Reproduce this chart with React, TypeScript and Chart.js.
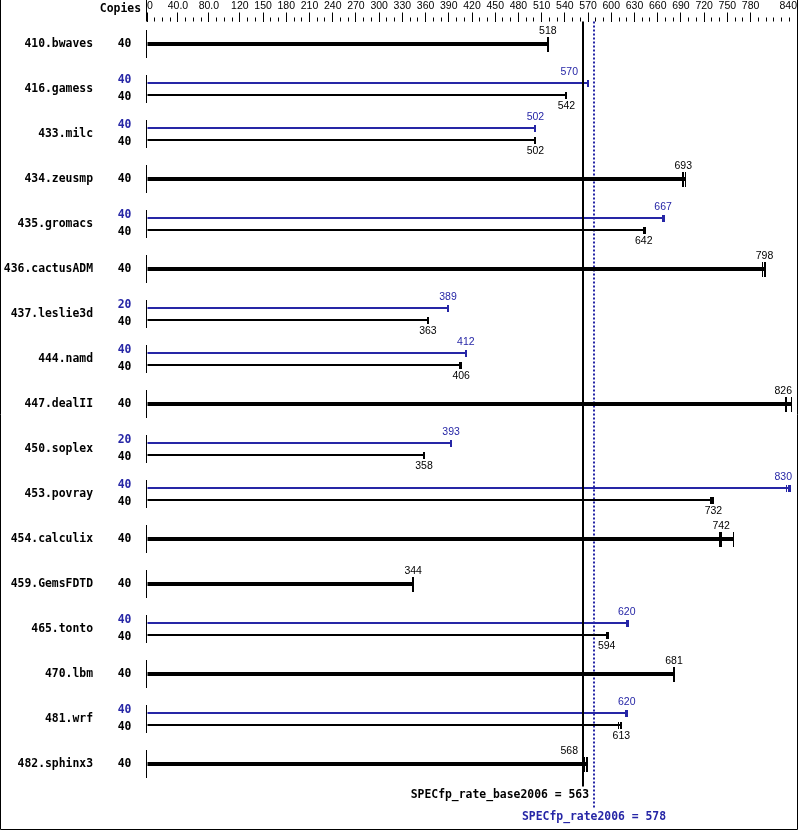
import React, { useEffect, useRef } from 'react';
import { Chart, registerables } from 'chart.js';

Chart.register(...registerables);

// ---------- data ----------
const benchmarks = [
  '410.bwaves', '416.gamess', '433.milc', '434.zeusmp', '435.gromacs', '436.cactusADM',
  '437.leslie3d', '444.namd', '447.dealII', '450.soplex', '453.povray', '454.calculix',
  '459.GemsFDTD', '465.tonto', '470.lbm', '481.wrf', '482.sphinx3',
];
const baseCopies = [40, 40, 40, 40, 40, 40, 40, 40, 40, 40, 40, 40, 40, 40, 40, 40, 40];
const peakCopies: (number | null)[] = [null, 40, 40, null, 40, null, 20, 40, null, 20, 40, null, null, 40, null, 40, null];
const baseMedians = [518, 542, 502, 693, 642, 798, 363, 406, 826, 358, 732, 742, 344, 594, 681, 613, 568];
const peakMedians: (number | null)[] = [null, 570, 502, null, 667, null, 389, 412, null, 393, 830, null, null, 620, null, 620, null];
const baseRuns: number[][] = [
  [518, 518, 518], [542, 542, 542], [502, 502, 502], [693, 693, 696], [642, 642, 644],
  [796, 798, 798], [363, 363, 363], [404, 406, 406], [826, 826, 833], [358, 358, 358],
  [728, 730, 732], [740, 742, 758], [344, 344, 344], [594, 594, 597], [681, 681, 681],
  [609, 613, 613], [565, 568, 569],
];
const peakRuns: (number[] | null)[] = [
  null, [570, 570, 570], [502, 502, 502], null, [667, 667, 669], null, [389, 389, 389],
  [412, 412, 412], null, [393, 393, 393], [827, 830, 832], null, null, [620, 620, 622],
  null, [619, 620, 620], null,
];
const xTickValues = [0, 40, 80, 120, 150, 180, 210, 240, 270, 300, 330, 360, 390, 420, 450, 480, 510, 540, 570, 600, 630, 660, 690, 720, 750, 780, 840];
const xTickLabels = ['0', '40.0', '80.0', '120', '150', '180', '210', '240', '270', '300', '330', '360', '390', '420', '450', '480', '510', '540', '570', '600', '630', '660', '690', '720', '750', '780', '840'];
const xMin = 0;
const xMax = 840;
const xMinorStep = 10;
const baseScore = 563;
const peakScore = 578;
const baseScoreLabel = 'SPECfp_rate_base2006 = 563';
const peakScoreLabel = 'SPECfp_rate2006 = 578';
const copiesHeader = 'Copies';

// ---------- styles ----------
const BLUE = '#2626a6';
const BLACK = '#000000';
const MONO = '"DejaVu Sans Mono", monospace';
const SANS = '"Liberation Sans", Arial, sans-serif';
const NAME_FONT = `bold 11.4px ${MONO}`;
const NUM_FONT = `10.5px ${SANS}`;

const hasPeak = (i: number) => peakMedians[i] !== null && peakMedians[i] !== undefined;

function placeLabel(ctx: CanvasRenderingContext2D, text: string, cx: number, lines: number[], rightLimit: number) {
  const w = ctx.measureText(text).width;
  let left = cx - w / 2;
  let right = cx + w / 2;
  for (const lx of lines) {
    if (left < lx + 2 && right > lx - 2) {
      right = Math.min(...lines) - 5;
      left = right - w;
      break;
    }
  }
  if (right > rightLimit) {
    right = rightLimit;
    left = right - w;
  }
  return left;
}

const decor = {
  id: 'specDecor',
  beforeDatasetsDraw(chart: any) {
    const { ctx, chartArea: a, scales } = chart;
    const x = scales.x;
    const px = Math.round(x.getPixelForValue(peakScore));
    ctx.save();
    ctx.strokeStyle = BLUE;
    ctx.lineWidth = 2;
    ctx.setLineDash([2, 2]);
    ctx.beginPath();
    ctx.moveTo(px, a.top);
    ctx.lineTo(px, a.bottom + 21.5);
    ctx.stroke();
    ctx.restore();
  },
  afterDatasetsDraw(chart: any) {
    const { ctx, chartArea: a, scales } = chart;
    const x = scales.x;
    const y = scales.y;
    const basePx = Math.round(x.getPixelForValue(baseScore));
    const peakPx = Math.round(x.getPixelForValue(peakScore));
    const x0 = Math.floor(x.getPixelForValue(xMin)) - 0.5;
    ctx.save();
    // base reference line
    ctx.strokeStyle = BLACK;
    ctx.lineWidth = 2;
    ctx.beginPath();
    ctx.moveTo(basePx, a.top);
    ctx.lineTo(basePx, a.bottom);
    ctx.stroke();

    // row separators at 0
    ctx.lineWidth = 1;
    benchmarks.forEach((_, i) => {
      const cy = y.getPixelForValue(i);
      ctx.beginPath();
      ctx.moveTo(x0, cy - 14);
      ctx.lineTo(x0, cy + 14);
      ctx.stroke();
    });

    const metas = [0, 1, 2].map((d) => chart.getDatasetMeta(d));
    const lines = [basePx, peakPx];
    const drawTicks = (runs: number[], median: number, cy: number, thick: boolean, color: string) => {
      ctx.fillStyle = color;
      const h = thick ? 7 : 3;
      const hh = thick ? 15 : 7;
      const uniq = Array.from(new Set(runs));
      uniq.forEach((r) => {
        const px = x.getPixelForValue(r);
        const w = r === median ? 2 : 1;
        ctx.fillRect(Math.round(px - w / 2), Math.round(cy - h), w, hh);
      });
    };

    ctx.textBaseline = 'middle';
    benchmarks.forEach((_, i) => {
      const rowCy = y.getPixelForValue(i);
      ctx.font = NUM_FONT;
      ctx.textAlign = 'left';
      if (!hasPeak(i)) {
        const el = metas[0].data[i];
        const cy = el.y;
        drawTicks(baseRuns[i], baseMedians[i], cy, true, BLACK);
        ctx.font = NUM_FONT;
        ctx.fillStyle = BLACK;
        const t = String(baseMedians[i]);
        ctx.fillText(t, placeLabel(ctx, t, x.getPixelForValue(baseMedians[i]), lines, a.right - 5), cy - 12.5);
        ctx.font = NAME_FONT;
        ctx.textAlign = 'center';
        ctx.fillText(String(baseCopies[i]), 124.5, rowCy);
      } else {
        const pel = metas[1].data[i];
        const bel = metas[2].data[i];
        drawTicks(peakRuns[i] as number[], peakMedians[i] as number, pel.y, false, BLUE);
        drawTicks(baseRuns[i], baseMedians[i], bel.y, false, BLACK);
        ctx.font = NUM_FONT;
        ctx.fillStyle = BLUE;
        const pt = String(peakMedians[i]);
        ctx.fillText(pt, placeLabel(ctx, pt, x.getPixelForValue(peakMedians[i] as number), lines, a.right - 5), pel.y - 11);
        ctx.fillStyle = BLACK;
        const bt = String(baseMedians[i]);
        ctx.fillText(bt, placeLabel(ctx, bt, x.getPixelForValue(baseMedians[i]), lines, a.right - 5), bel.y + 11.5);
        ctx.font = NAME_FONT;
        ctx.textAlign = 'center';
        ctx.fillStyle = BLUE;
        ctx.fillText(String(peakCopies[i]), 124.5, rowCy - 9);
        ctx.fillStyle = BLACK;
        ctx.fillText(String(baseCopies[i]), 124.5, rowCy + 8.5);
      }
    });
    ctx.restore();
  },
  afterDraw(chart: any) {
    const { ctx, chartArea: a, scales, width, height } = chart;
    const x = scales.x;
    ctx.save();
    ctx.strokeStyle = BLACK;
    ctx.lineWidth = 1;
    // minor ticks
    for (let v = xMin; v <= xMax; v += xMinorStep) {
      if (xTickValues.includes(v)) continue;
      const px = Math.round(x.getPixelForValue(v) - 0.5) + 0.5;
      ctx.beginPath();
      ctx.moveTo(px, a.top - 4);
      ctx.lineTo(px, a.top);
      ctx.stroke();
    }
    // 0 line through header
    const x0 = Math.floor(x.getPixelForValue(xMin)) - 0.5;
    ctx.beginPath();
    ctx.moveTo(x0, 0);
    ctx.lineTo(x0, a.top);
    ctx.stroke();

    // header
    ctx.font = NAME_FONT;
    ctx.fillStyle = BLACK;
    ctx.textBaseline = 'middle';
    ctx.textAlign = 'right';
    ctx.fillText(copiesHeader, 141, 9.5);

    // summary lines text
    const basePx = Math.round(x.getPixelForValue(baseScore));
    const peakPx = Math.round(x.getPixelForValue(peakScore));
    ctx.textAlign = 'right';
    ctx.fillText(baseScoreLabel, basePx + 6, a.bottom + 9);
    ctx.fillStyle = BLUE;
    ctx.textAlign = 'center';
    ctx.fillText(peakScoreLabel, peakPx, a.bottom + 31);

    // frame
    ctx.strokeStyle = BLACK;
    ctx.beginPath();
    ctx.moveTo(0.5, 0);
    ctx.lineTo(0.5, height - 1.5);
    ctx.lineTo(width - 1.5, height - 1.5);
    ctx.lineTo(width - 1.5, 0);
    ctx.stroke();
    ctx.restore();
  },
};

export default function App() {
  const ref = useRef<HTMLCanvasElement | null>(null);
  useEffect(() => {
    document.body.style.margin = '0';
    const single = benchmarks.map((_, i) => (!hasPeak(i) ? Math.max(...baseRuns[i]) : null));
    const peak = benchmarks.map((_, i) => (hasPeak(i) ? Math.max(...(peakRuns[i] as number[])) : null));
    const base = benchmarks.map((_, i) => (hasPeak(i) ? Math.max(...baseRuns[i]) : null));
    const common = { categoryPercentage: 0.533, barPercentage: 1, skipNull: true, borderWidth: 0 };
    const chart = new Chart(ref.current as HTMLCanvasElement, {
      type: 'bar',
      data: {
        labels: benchmarks,
        datasets: [
          { label: 'single', data: single, backgroundColor: BLACK, maxBarThickness: 4, ...common },
          { label: 'peak', data: peak, backgroundColor: BLUE, maxBarThickness: 2, ...common },
          { label: 'base', data: base, backgroundColor: BLACK, maxBarThickness: 2, ...common },
        ] as any,
      },
      options: {
        indexAxis: 'y',
        animation: false,
        responsive: true,
        maintainAspectRatio: false,
        events: [],
        layout: { padding: { left: 0, right: 2, top: 0, bottom: 44.5 } },
        plugins: { legend: { display: false }, tooltip: { enabled: false } },
        scales: {
          x: {
            type: 'linear',
            position: 'top',
            min: xMin,
            max: xMax,
            afterBuildTicks(s: any) {
              s.ticks = xTickValues.map((v) => ({ value: v }));
            },
            afterFit(s: any) {
              s.height = 21.5;
              s.paddingLeft = 0;
              s.paddingRight = 0;
            },
            grid: { drawOnChartArea: false, drawTicks: true, tickLength: 9, color: BLACK, lineWidth: 1 },
            border: { display: false },
            ticks: {
              autoSkip: false,
              maxRotation: 0,
              minRotation: 0,
              align: 'inner',
              padding: 0,
              color: BLACK,
              font: { family: SANS, size: 10.5, lineHeight: 1.15 },
              callback: (_v: any, i: number) => xTickLabels[i],
            },
          },
          y: {
            type: 'category',
            offset: true,
            afterFit(s: any) {
              s.width = 147;
              s.paddingTop = 0;
              s.paddingBottom = 0;
            },
            grid: { display: false, drawTicks: false },
            border: { display: false },
            ticks: {
              autoSkip: false,
              padding: 54,
              color: BLACK,
              font: { family: MONO, size: 11.4, weight: 'bold' },
            },
          },
        },
      } as any,
      plugins: [decor],
    });
    return () => chart.destroy();
  }, []);
  return (
    <div style={{ width: 799, height: 831, position: 'relative' }}>
      <canvas ref={ref} style={{ display: 'block' }} />
    </div>
  );
}
